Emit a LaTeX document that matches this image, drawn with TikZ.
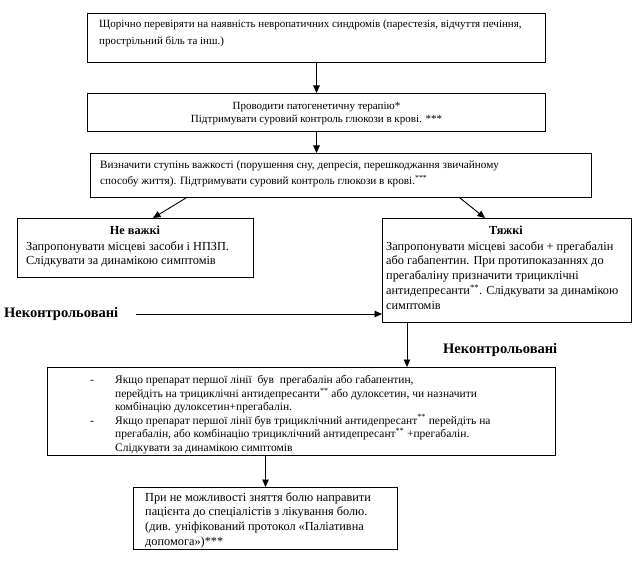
\documentclass[tikz,border=0pt]{standalone}
\usepackage{fontspec}
\setmainfont{Liberation Serif}
\usetikzlibrary{arrows.meta,calc}
\begin{document}
\begin{tikzpicture}[x=1pt,y=-1pt,
  box/.style={draw, line width=1pt, anchor=north west, inner sep=0},
  arr/.style={-{Triangle[length=7.5pt,width=6.5pt]}, line width=0.9pt},
  txt/.style={inner sep=0, align=left, anchor=north west},
  big/.style={font=\fontsize{12.3}{14.8}\selectfont},
  lab/.style={inner sep=0, font=\fontsize{14.5}{16}\selectfont\bfseries}]
\useasboundingbox (0,0) rectangle (640,564);
% boxes
\node[box, minimum width=458, minimum height=49] (b1) at (87,13) {};
\node[box, minimum width=458, minimum height=38] (b2) at (87,93) {};
\node[box, minimum width=501, minimum height=44] (b3) at (90,153) {};
\node[box, minimum width=236, minimum height=59] (b4) at (17,218) {};
\node[box, minimum width=249, minimum height=104] (b5) at (382,218) {};
\node[box, minimum width=508, minimum height=88] (b6) at (47,367) {};
\node[box, minimum width=264, minimum height=62] (b7) at (133,487) {};
% texts
\node[txt, font=\fontsize{11}{17}\selectfont] (t1) at (99,20) {Щорічно перевіряти на наявність невропатичних синдромів (парестезія, відчуття печіння,\\прострільний біль та інш.)};
\node[inner sep=0, align=center, font=\fontsize{11}{13}\selectfont] (t2) at ($(b2.center)+(0,1.5)$) {Проводити патогенетичну терапію*\\Підтримувати суровий контроль глюкози в крові. ***};
\node[txt, font=\fontsize{11.2}{16}\selectfont] (t3) at (100,160.7) {Визначити ступінь важкості (порушення сну, депресія, перешкоджання звичайному\\способу життя). Підтримувати суровий контроль глюкози в крові.\textsuperscript{***}};
\node[inner sep=0, big, anchor=north] (h4) at (135,226.2) {\textbf{Не важкі}};
\node[txt, big] (t4) at (26,241) {Запропонувати місцеві засоби і НПЗП.\\Слідкувати за динамікою симптомів};
\node[inner sep=0, big, anchor=north] (h5) at (506,226.2) {\textbf{Тяжкі}};
\node[txt, big] (t5) at (386,241) {Запропонувати місцеві засоби + прегабалін\\або габапентин. При протипоказаннях до\\прегабаліну призначити трициклічні\\антидепресанти\textsuperscript{**}. Слідкувати за динамікою\\симптомів};
\node[txt, font=\fontsize{11.5}{13.2}\selectfont] (t6) at (90,374.5) {\begin{tabular}{@{}p{25pt}@{}l@{}}
-&Якщо препарат першої лінії \ був \ прегабалін або габапентин,\\
&перейдіть на трициклічні антидепресанти\textsuperscript{**} або дулоксетин, чи назначити\\
&комбінацію дулоксетин+прегабалін.\\
-&Якщо препарат першої лінії був трициклічний антидепресант\textsuperscript{**} перейдіть на\\
&прегабалін, або комбінацію трициклічний антидепресант\textsuperscript{**} +прегабалін.\\
&Слідкувати за динамікою симптомів
\end{tabular}};
\node[txt, big] (t7) at (145,492) {При не можливості зняття болю направити\\пацієнта до спеціалістів з лікування болю.\\(див. уніфікований протокол «Паліативна\\допомога»)***};
% labels
\node[lab, anchor=west] (l1) at (4,314) {Неконтрольовані};
\node[lab, anchor=west] (l2) at (443,350) {Неконтрольовані};
% connectors
\coordinate (c1) at ($(b3.south west)+(96,0)$);
\coordinate (c2) at ($(b3.south west)+(370,0)$);
\coordinate (c3) at ($(b5.south west)+(25,0)$);
\draw[arr] (b1.south) -- (b2.north);
\draw[arr] (b2.south) -- (b2.south |- b3.north);
\draw[arr] (c1) -- ($(b4.north west)+(136,0)$);
\draw[arr] (c2) -- ($(b5.north west)+(103,0)$);
\draw[arr] ($(l1.east)+(18,0)$) -- (b5.west |- l1.east);
\draw[arr] (c3) -- (c3 |- b6.north);
\draw[arr] (b6.south -| b7.north) -- (b7.north);
\end{tikzpicture}
\end{document}
